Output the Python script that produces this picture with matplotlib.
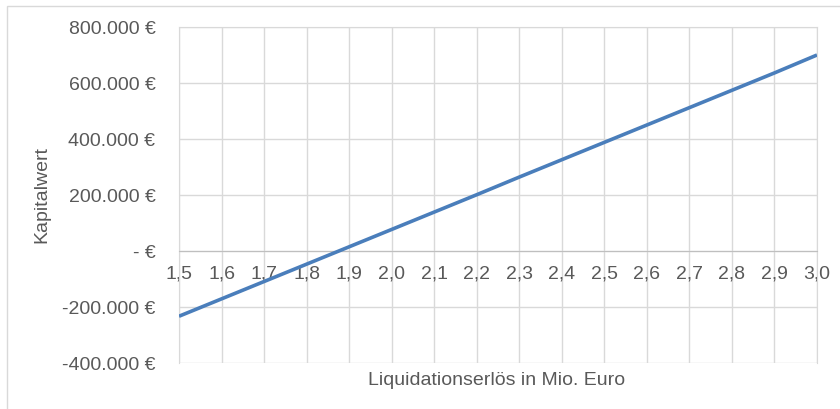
import matplotlib
matplotlib.use('Agg')
import matplotlib.pyplot as plt
from matplotlib.ticker import FuncFormatter
from matplotlib.patches import Rectangle

# Liquidationserlös (Mio. Euro) und zugehöriger Kapitalwert (Euro)
erloes = [1.5, 1.6, 1.7, 1.8, 1.9, 2.0, 2.1, 2.2, 2.3, 2.4, 2.5, 2.6, 2.7, 2.8, 2.9, 3.0]
kapitalwert = [-233000, -171000, -109000, -47000, 15000, 77000, 139000, 201000,
               264000, 326000, 388000, 450000, 512000, 574000, 636000, 700000]
y_ticks = [-400000, -200000, 0, 200000, 400000, 600000, 800000]

TEXT = '#595959'
GRID = '#D9D9D9'
AXIS = '#BFBFBF'
BLUE = '#4A7EBB'

plt.rcParams['font.family'] = ['Liberation Sans', 'DejaVu Sans']
plt.rcParams['font.size'] = 14

W, H = 840, 410
fig = plt.figure(figsize=(W / 100, H / 100), dpi=100)
ax = fig.add_axes([179 / W, 46 / H, (817 - 179) / W, (364 - 28) / H])

ax.plot(erloes, kapitalwert, color=BLUE, lw=2.6, solid_capstyle='butt', zorder=3)

ax.set_xlim(erloes[0], erloes[-1])
ax.set_ylim(y_ticks[0], y_ticks[-1])
ax.set_xticks(erloes)
ax.set_yticks(y_ticks)
ax.xaxis.set_major_formatter(FuncFormatter(lambda v, p: f'{v:.1f}'.replace('.', ',')))


def euro(v, pos):
    if v == 0:
        return '- €'
    return f'{v:,.0f} €'.replace(',', '.')


ax.yaxis.set_major_formatter(FuncFormatter(euro))
ax.grid(True, color=GRID, lw=1)
ax.set_axisbelow(True)

# horizontal axis sits on the zero line, labels just below it
ax.spines['bottom'].set_position(('data', 0))
ax.spines['bottom'].set_color(AXIS)
for s in ['left', 'right', 'top']:
    ax.spines[s].set_color(GRID)
ax.tick_params(axis='both', length=0, colors=TEXT)
ax.tick_params(axis='x', pad=10)
ax.tick_params(axis='y', pad=17)

fig.text(497 / W, 1 - 381 / H, 'Liquidationserlös in Mio. Euro', color=TEXT,
         ha='center', va='center')
fig.text(42 / W, 1 - 195 / H, 'Kapitalwert', color=TEXT, rotation=90,
         ha='center', va='center')

# chart frame
fig.patches.append(Rectangle((7 / W, -0.1), 1.1, 1 - 7 / H + 0.1,
                             transform=fig.transFigure, fill=False,
                             edgecolor=GRID, lw=1))

fig.savefig('out.png', dpi=100)
